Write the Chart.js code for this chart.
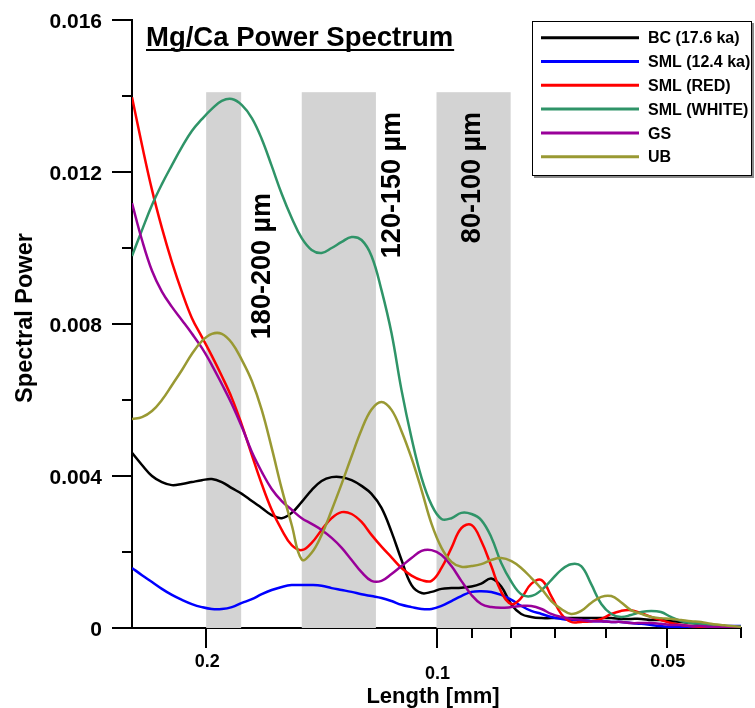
<!DOCTYPE html>
<html>
<head>
<meta charset="utf-8">
<title>Mg/Ca Power Spectrum</title>
<script src="https://cdn.jsdelivr.net/npm/chart.js@4.4.1/dist/chart.umd.min.js"></script>
<style>
  html, body { margin: 0; padding: 0; background: #fff; }
  #chart { display: block; }
</style>
</head>
<body>
<canvas id="chart" width="755" height="708"></canvas>
<script>
// sample lengths (mm), from 0.25 down to 0.04
const lengths = [0.25, 0.2426, 0.2354, 0.2285, 0.2217, 0.2151, 0.2088, 0.2026, 0.1966, 0.1908,
  0.1851, 0.1796, 0.1743, 0.1692, 0.1642, 0.1593, 0.1546, 0.15, 0.1456, 0.1413,
  0.1371, 0.133, 0.1291, 0.1253, 0.1216, 0.118, 0.1145, 0.1111, 0.1078, 0.1046,
  0.1015, 0.0985, 0.0956, 0.0928, 0.09, 0.0874, 0.0848, 0.0823, 0.0798, 0.0775,
  0.0752, 0.0729, 0.0708, 0.0687, 0.0667, 0.0647, 0.0628, 0.0609, 0.0591, 0.0574,
  0.0557, 0.054, 0.0524, 0.0509, 0.0494, 0.0479, 0.0465, 0.0451, 0.0438, 0.0425,
  0.0412, 0.04];

const bcPower = [0.00461, 0.00429, 0.00400, 0.00384, 0.00376, 0.00379, 0.00384, 0.00389, 0.00392, 0.00384,
  0.00368, 0.00353, 0.00334, 0.00316, 0.00297, 0.00289, 0.00303, 0.00332, 0.00363, 0.00387,
  0.00397, 0.00397, 0.00389, 0.00374, 0.00353, 0.00316, 0.00253, 0.00179, 0.00113, 0.00092,
  0.00095, 0.00103, 0.00105, 0.00106, 0.00109, 0.00117, 0.00130, 0.00109, 0.00061, 0.00037,
  0.00029, 0.00026, 0.00026, 0.00026, 0.00026, 0.00026, 0.00026, 0.00026, 0.00026, 0.00024,
  0.00024, 0.00024, 0.00021, 0.00021, 0.00018, 0.00016, 0.00013, 0.00011, 0.00008, 0.00005,
  0.00003, 0.00003];

const sml124Power = [0.00158, 0.00139, 0.00121, 0.00103, 0.00087, 0.00074, 0.00063, 0.00055, 0.00050, 0.00050,
  0.00055, 0.00066, 0.00076, 0.00089, 0.00100, 0.00108, 0.00113, 0.00113, 0.00113, 0.00111,
  0.00105, 0.00100, 0.00095, 0.00089, 0.00084, 0.00079, 0.00071, 0.00061, 0.00055, 0.00050,
  0.00050, 0.00058, 0.00071, 0.00084, 0.00095, 0.00097, 0.00095, 0.00087, 0.00074, 0.00058,
  0.00045, 0.00037, 0.00029, 0.00024, 0.00021, 0.00021, 0.00018, 0.00018, 0.00016, 0.00016,
  0.00013, 0.00011, 0.00008, 0.00005, 0.00003, 0.00003, 0.00003, 0.00003, 0.00005, 0.00005,
  0.00005, 0.00005];

const smlRedPower = [0.01397, 0.01271, 0.01153, 0.01053, 0.00963, 0.00884, 0.00816, 0.00766, 0.00716, 0.00663,
  0.00605, 0.00534, 0.00455, 0.00379, 0.00311, 0.00258, 0.00218, 0.00205, 0.00224, 0.00258,
  0.00289, 0.00305, 0.00300, 0.00279, 0.00245, 0.00214, 0.00186, 0.00158, 0.00138, 0.00126,
  0.00124, 0.00158, 0.00211, 0.00263, 0.00271, 0.00229, 0.00163, 0.00095, 0.00063, 0.00079,
  0.00116, 0.00126, 0.00084, 0.00037, 0.00016, 0.00016, 0.00018, 0.00024, 0.00037, 0.00045,
  0.00047, 0.00039, 0.00029, 0.00021, 0.00013, 0.00008, 0.00005, 0.00003, 0.00003, 0.00001,
  0.00001, 0.00001];

const smlWhitePower = [0.00979, 0.01047, 0.01113, 0.01168, 0.01218, 0.01266, 0.01308, 0.01339, 0.01366, 0.01387,
  0.01392, 0.01376, 0.01342, 0.01287, 0.01216, 0.01142, 0.01079, 0.01026, 0.00995, 0.00987,
  0.01000, 0.01016, 0.01029, 0.01021, 0.00979, 0.00889, 0.00776, 0.00626, 0.00500, 0.00395,
  0.00324, 0.00287, 0.00289, 0.00303, 0.00300, 0.00284, 0.00239, 0.00171, 0.00121, 0.00089,
  0.00084, 0.00100, 0.00126, 0.00153, 0.00168, 0.00163, 0.00116, 0.00063, 0.00037, 0.00029,
  0.00034, 0.00042, 0.00045, 0.00042, 0.00029, 0.00018, 0.00013, 0.00011, 0.00008, 0.00005,
  0.00003, 0.00003];

const gsPower = [0.01118, 0.01021, 0.00940, 0.00885, 0.00845, 0.00810, 0.00775, 0.00737, 0.00692, 0.00642,
  0.00589, 0.00529, 0.00463, 0.00411, 0.00366, 0.00334, 0.00311, 0.00289, 0.00274, 0.00258,
  0.00237, 0.00211, 0.00179, 0.00147, 0.00124, 0.00124, 0.00142, 0.00163, 0.00184, 0.00203,
  0.00205, 0.00192, 0.00163, 0.00124, 0.00087, 0.00063, 0.00055, 0.00053, 0.00055, 0.00058,
  0.00058, 0.00050, 0.00037, 0.00029, 0.00024, 0.00021, 0.00018, 0.00018, 0.00016, 0.00016,
  0.00013, 0.00013, 0.00013, 0.00011, 0.00008, 0.00008, 0.00005, 0.00005, 0.00003, 0.00003,
  0.00001, 0.00001];

const ubPower = [0.00550, 0.00555, 0.00571, 0.00600, 0.00639, 0.00679, 0.00721, 0.00755, 0.00774, 0.00774,
  0.00750, 0.00705, 0.00650, 0.00574, 0.00474, 0.00366, 0.00271, 0.00180, 0.00198, 0.00245,
  0.00310, 0.00380, 0.00452, 0.00522, 0.00575, 0.00595, 0.00574, 0.00518, 0.00447, 0.00363,
  0.00274, 0.00211, 0.00174, 0.00161, 0.00163, 0.00168, 0.00179, 0.00184, 0.00176, 0.00158,
  0.00132, 0.00103, 0.00071, 0.00050, 0.00037, 0.00045, 0.00066, 0.00082, 0.00084, 0.00068,
  0.00047, 0.00037, 0.00029, 0.00026, 0.00024, 0.00021, 0.00018, 0.00016, 0.00011, 0.00008,
  0.00005, 0.00003];

const seriesNames = ['BC (17.6 ka)', 'SML (12.4 ka)', 'SML (RED)', 'SML (WHITE)', 'GS', 'UB'];
const seriesValues = [bcPower, sml124Power, smlRedPower, smlWhitePower, gsPower, ubPower];
const seriesColors = ['#000000', '#0000ff', '#ff0000', '#2f9468', '#990099', '#999933'];

// size windows (mm) shaded in grey
const bandRanges = [[0.18, 0.2], [0.12, 0.15], [0.08, 0.1]];
const bandLabels = ['180-200 µm', '120-150 µm', '80-100 µm'];
const bandTop = 0.0141;

const xTickValues = [0.2, 0.1, 0.09, 0.08, 0.07, 0.06, 0.05, 0.04];
const xLabelValues = [0.2, 0.1, 0.05];
const xLabels = ['0.2', '0.1', '0.05'];
const yTickValues = [0, 0.002, 0.004, 0.006, 0.008, 0.010, 0.012, 0.014, 0.016];
const yLabelValues = [0, 0.004, 0.008, 0.012, 0.016];
const yLabels = ['0', '0.004', '0.008', '0.012', '0.016'];

const FONT = '"Liberation Sans", Arial, Helvetica, sans-serif';

function rotatedText(ctx, text, x, y, align) {
  ctx.save();
  ctx.translate(x, y);
  ctx.rotate(-Math.PI / 2);
  ctx.textAlign = align;
  ctx.textBaseline = 'alphabetic';
  ctx.fillText(text, 0, 0);
  ctx.restore();
}

const decorPlugin = {
  id: 'decor',
  beforeDatasetsDraw(chart) {
    const { ctx, chartArea, scales: { x, y } } = chart;
    const top = y.getPixelForValue(bandTop);
    ctx.save();
    ctx.fillStyle = '#d3d3d3';
    bandRanges.forEach(([lo, hi]) => {
      const x1 = x.getPixelForValue(hi);
      const x2 = x.getPixelForValue(lo);
      ctx.fillRect(x1, top, x2 - x1, chartArea.bottom - top);
    });
    ctx.restore();
  },
  afterDraw(chart) {
    const { ctx, chartArea, scales: { x, y } } = chart;
    ctx.save();
    ctx.strokeStyle = '#000';
    ctx.fillStyle = '#000';
    ctx.lineWidth = 2;

    // y ticks: long on labelled values, short in between
    yTickValues.forEach(v => {
      const py = Math.round(y.getPixelForValue(v));
      const len = yLabelValues.includes(v) ? 20 : 10;
      ctx.beginPath();
      ctx.moveTo(chartArea.left - len, py);
      ctx.lineTo(chartArea.left, py);
      ctx.stroke();
    });
    ctx.font = `bold 21px ${FONT}`;
    ctx.textAlign = 'right';
    ctx.textBaseline = 'alphabetic';
    yLabelValues.forEach((v, i) => {
      ctx.fillText(yLabels[i], chartArea.left - 30, y.getPixelForValue(v) + 7.5);
    });

    // x ticks on the log axis
    xTickValues.forEach(v => {
      const px = Math.round(x.getPixelForValue(v));
      const len = xLabelValues.includes(v) ? 20 : 10;
      ctx.beginPath();
      ctx.moveTo(px, chartArea.bottom);
      ctx.lineTo(px, chartArea.bottom + len);
      ctx.stroke();
    });
    ctx.font = `bold 18px ${FONT}`;
    ctx.textAlign = 'center';
    xLabelValues.forEach((v, i) => {
      const drop = v === 0.1 ? 51 : 39;
      ctx.fillText(xLabels[i], x.getPixelForValue(v) + 1, chartArea.bottom + drop);
    });

    // axis titles
    ctx.font = `bold 22px ${FONT}`;
    ctx.fillText('Length [mm]', 433, 703);
    ctx.font = `bold 23.5px ${FONT}`;
    rotatedText(ctx, 'Spectral Power', 32, 318, 'center');

    // band labels
    ctx.font = `bold 27px ${FONT}`;
    const labelPos = [[270, 193], [400, 112], [480, 112]];
    bandLabels.forEach((t, i) => rotatedText(ctx, t, labelPos[i][0], labelPos[i][1], 'right'));

    // underlined title
    ctx.font = `bold 27.5px ${FONT}`;
    ctx.textAlign = 'left';
    const title = 'Mg/Ca Power Spectrum';
    ctx.fillText(title, 146, 46);
    ctx.fillRect(146, 49, ctx.measureText(title).width + 1, 2);

    // legend box
    const lx = 532, ly = 21, lw = 220, lh = 155;
    ctx.fillStyle = '#8a8a8a';
    ctx.fillRect(lx + 2, ly + 2, lw, lh);
    ctx.fillStyle = '#fff';
    ctx.fillRect(lx, ly, lw, lh);
    ctx.lineWidth = 1;
    ctx.strokeStyle = '#000';
    ctx.strokeRect(lx + 0.5, ly + 0.5, lw - 1, lh - 1);
    ctx.font = `bold 16px ${FONT}`;
    ctx.textAlign = 'left';
    seriesNames.forEach((name, i) => {
      const ry = 37.7 + i * 23.8;
      ctx.strokeStyle = seriesColors[i];
      ctx.lineWidth = 3;
      ctx.beginPath();
      ctx.moveTo(541, ry);
      ctx.lineTo(639, ry);
      ctx.stroke();
      ctx.fillStyle = '#000';
      ctx.fillText(name, 648, ry + 5.7);
    });
    ctx.restore();
  }
};

const datasets = seriesNames.map((name, i) => ({
  label: name,
  data: lengths.map((len, j) => ({ x: len, y: seriesValues[i][j] })),
  borderColor: seriesColors[i],
  borderWidth: 2.5,
  pointRadius: 0,
  fill: false,
  tension: 0.4,
  order: seriesNames.length - i
}));

new Chart(document.getElementById('chart'), {
  type: 'line',
  data: { datasets },
  options: {
    responsive: false,
    animation: false,
    layout: { padding: { left: 0, right: 14, top: 20, bottom: 0 } },
    plugins: {
      legend: { display: false },
      title: { display: false },
      tooltip: { enabled: false }
    },
    scales: {
      x: {
        type: 'logarithmic',
        reverse: true,
        min: 0.04,
        max: 0.25,
        grid: { display: false, drawTicks: false },
        border: { display: true, color: '#000', width: 2 },
        ticks: { display: false },
        afterFit: (scale) => { scale.height = 80; }
      },
      y: {
        type: 'linear',
        min: 0,
        max: 0.016,
        grid: { display: false, drawTicks: false },
        border: { display: true, color: '#000', width: 2 },
        ticks: { display: false },
        afterFit: (scale) => { scale.width = 132; }
      }
    }
  },
  plugins: [decorPlugin]
});
</script>
</body>
</html>
